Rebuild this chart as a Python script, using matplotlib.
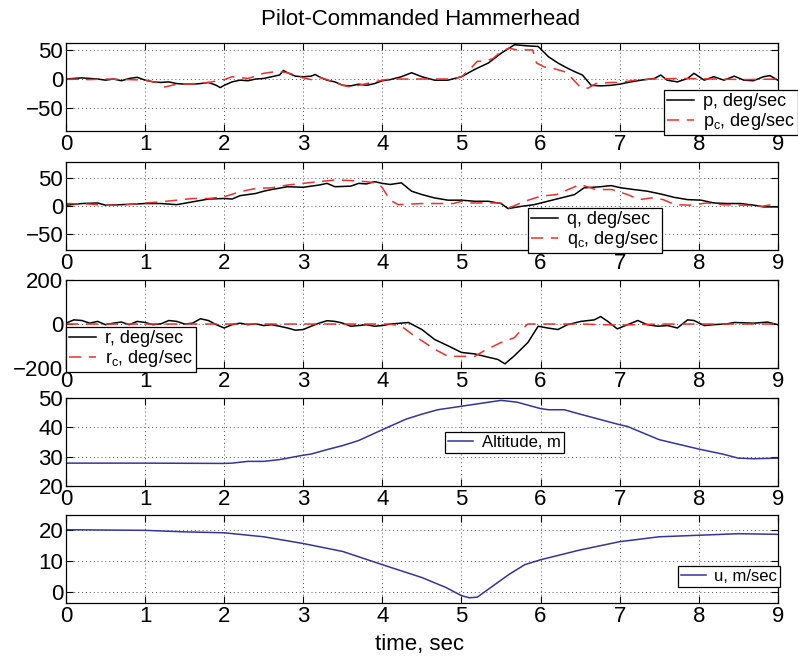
import matplotlib
matplotlib.use("Agg")
import matplotlib.pyplot as plt

plt.rcParams['font.family'] = ['Liberation Sans', 'DejaVu Sans']
plt.rcParams['axes.unicode_minus'] = True

# roll rate p and command p_c (deg/sec)
t_p = [0, 0.2, 0.4, 0.5, 0.6, 0.7, 0.8, 0.9, 1.0, 1.1, 1.2, 1.3, 1.4, 1.5, 1.6, 1.7, 1.8, 1.9, 1.95,
       2.0, 2.1, 2.2, 2.3, 2.4, 2.5, 2.6, 2.7, 2.75, 2.8, 2.9, 3.0, 3.1, 3.15, 3.2, 3.3, 3.4, 3.5, 3.6,
       3.7, 3.8, 3.9, 4.0, 4.1, 4.24, 4.37, 4.5, 4.66, 4.83, 5.0, 5.17, 5.34, 5.5, 5.67, 5.84, 5.97,
       6.1, 6.22, 6.34, 6.43, 6.53, 6.64, 6.76, 6.89, 7.0, 7.14, 7.27, 7.44, 7.52, 7.6, 7.73, 7.86,
       7.94, 8.07, 8.19, 8.32, 8.45, 8.57, 8.69, 8.82, 8.9, 9.0]
p = [0, 2, 0, -2, 0, -3, 1, 3, -2, -5, -6, -5, -8, -9, -9, -8, -6, -11, -15,
     -11, -5, -2, -3, 0, 1, 4, 7, 15, 11, 5, 4, 5, 8, 4, -2, -5, -11, -12,
     -9, -11, -8, -3, -1, 4, 11, 4, -2, -2, 4, 17, 28, 45, 60, 58, 57,
     39, 28, 19, 13, 7, -11, -12, -11, -9, -5, -2, 1, 7, -2, -5, 1,
     10, -2, 4, -2, 5, -2, -3, 4, 6, -2]
t_pc = [0, 0.3, 0.5, 0.8, 1.0, 1.15, 1.25, 1.4, 1.6, 1.8, 2.0, 2.1, 2.3, 2.4, 2.5, 2.6, 2.7, 2.8, 2.9,
        3.0, 3.1, 3.2, 3.3, 3.4, 3.5, 3.6, 3.7, 3.8, 3.9, 4.0, 4.1, 4.5, 4.9, 5.0, 5.1, 5.2, 5.3, 5.4,
        5.5, 5.6, 5.7, 5.8, 5.9, 5.95, 6.05, 6.15, 6.3, 6.4, 6.5, 6.6, 6.7, 6.9, 7.0, 7.2, 7.4, 7.8,
        8.2, 8.6, 9.0]
pc = [0, -1, 0, -1, -2, -6, -14, -9, -9, -6, -1, 4, 1, 5, 10, 12, 13, 11, 7,
      2, -1, 3, -1, -6, -11, -14, -11, -8, -5, -2, 0, 0, 0, 4, 16, 31, 31, 36,
      48, 54, 51, 51, 51, 28, 21, 19, 13, 1, -14, -16, -8, -6, -6, -2, 0, 1,
      0, -1, 0]

# pitch rate q and command q_c (deg/sec)
t_q = [0, 0.2, 0.4, 0.5, 0.7, 1.0, 1.2, 1.4, 1.6, 1.8, 2.0, 2.1, 2.2, 2.4, 2.5, 2.6, 2.8, 3.0, 3.1,
       3.2, 3.3, 3.4, 3.6, 3.7, 3.8, 3.9, 4.0, 4.1, 4.24, 4.37, 4.5, 4.66, 4.83, 5.0, 5.17, 5.34,
       5.5, 5.59, 5.76, 5.92, 6.09, 6.26, 6.43, 6.55, 6.76, 6.89, 7.02, 7.18, 7.35, 7.52, 7.69,
       7.86, 8.03, 8.19, 8.36, 8.53, 8.7, 8.82, 9.0]
q = [1, 4, 5, 1, 2, 4, 4, 2, 7, 12, 13, 12, 18, 22, 26, 29, 34, 33, 35,
     37, 40, 34, 35, 40, 39, 43, 40, 38, 41, 26, 20, 14, 10, 10, 8, 8,
     4, -5, -1, 2, 8, 14, 20, 32, 34, 36, 32, 29, 26, 21, 15,
     11, 10, 5, 4, 4, 1, -2, -2]
t_qc = [0, 0.3, 0.5, 0.7, 1.0, 1.2, 1.4, 1.6, 1.8, 2.0, 2.2, 2.4, 2.6, 2.8, 3.0, 3.2, 3.4, 3.6, 3.8,
        3.95, 4.0, 4.1, 4.2, 4.5, 4.9, 5.0, 5.1, 5.5, 5.6, 5.8, 6.0, 6.2, 6.4, 6.5, 6.7, 6.9, 7.1,
        7.25, 7.4, 7.55, 7.7, 7.9, 8.1, 8.3, 8.6, 8.8, 9.0]
qc = [4, 3, 1, 1, 5, 7, 10, 13, 13, 16, 25, 31, 32, 37, 40, 43, 46, 45, 43,
      40, 32, 10, 2, 4, 4, 8, 5, 5, -4, 8, 17, 20, 32, 38, 29, 29, 20,
      11, 14, 11, 2, 1, 5, 2, 1, -1, 4]

# yaw rate r and command r_c (deg/sec)
t_r = [0, 0.1, 0.2, 0.3, 0.4, 0.5, 0.6, 0.7, 0.8, 0.9, 1.0, 1.1, 1.2, 1.3, 1.4, 1.5, 1.6, 1.7, 1.8,
       1.9, 2.0, 2.1, 2.2, 2.3, 2.4, 2.5, 2.6, 2.7, 2.8, 2.9, 3.0, 3.1, 3.2, 3.3, 3.4, 3.5, 3.6, 3.7,
       3.8, 3.9, 4.0, 4.1, 4.24, 4.33, 4.5, 4.66, 4.83, 5.0, 5.17, 5.34, 5.46, 5.55, 5.67, 5.84,
       5.97, 6.09, 6.22, 6.34, 6.51, 6.68, 6.76, 6.85, 6.97, 7.1, 7.23, 7.35, 7.48, 7.61, 7.73,
       7.86, 7.94, 8.07, 8.19, 8.36, 8.45, 8.7, 8.87, 9.0]
r = [4, 19, 16, 4, 12, -3, 4, 9, -3, 12, 7, -3, 1, 16, 12, 0, 4, 24, 16,
     -3, -18, -3, 4, -3, 1, -7, -3, -10, -18, -28, -25, -10, 4, 15, 12, 4, -10, -7,
     -3, -10, -7, 0, 4, 7, -25, -70, -99, -129, -136, -151, -161, -181, -144, -84,
     -10, -18, -25, -3, 12, 19, 34, 12, -22, -3, 16, -3, -10, -7, -18,
     19, 16, -7, -3, 1, 7, 4, 9, -3]
t_rc = [0, 0.5, 1.0, 1.5, 2.0, 2.5, 3.0, 3.5, 4.0, 4.1, 4.24, 4.41, 4.66, 4.83, 5.17, 5.29, 5.5,
        5.67, 5.76, 5.84, 6.0, 6.5, 7.0, 7.5, 8.0, 8.5, 9.0]
rc = [0, 0, 0, 0, 0, 0, 0, 0, 0, 0, -10, -55, -114, -147, -147, -121, -84,
      -62, -25, 0, 0, 0, -5, 0, 0, 0, 0]

# altitude (m) and forward speed u (m/sec)
t_alt = [0, 1, 2, 2.1, 2.3, 2.5, 2.7, 3.0, 3.1, 3.3, 3.5, 3.7, 4.0, 4.3, 4.5, 4.7, 5.0, 5.2, 5.5,
         5.7, 6.0, 6.1, 6.3, 6.5, 7.0, 7.1, 7.5, 8.0, 8.3, 8.5, 8.7, 9.0]
alt = [27.8, 27.8, 27.7, 27.8, 28.4, 28.4, 29.0, 30.5, 30.9, 32.4, 33.8, 35.5, 39.2, 42.8, 44.5,
       46.0, 47.2, 48.0, 49.2, 48.6, 46.4, 46.0, 46.0, 44.5, 40.9, 40.3, 35.8, 32.6, 30.9, 29.5,
       29.3, 29.5]
t_u = [0, 1, 1.5, 2, 2.5, 3, 3.5, 4, 4.5, 4.8, 5.0, 5.1, 5.2, 5.4, 5.6, 5.8, 6.0, 6.5, 7.0, 7.5,
       8.0, 8.5, 9.0]
u = [20.2, 20.0, 19.5, 19.2, 17.9, 15.7, 13.1, 8.8, 4.6, 1.4, -1.3, -2.0, -1.8, 1.9, 5.6, 8.8,
     10.4, 13.6, 16.3, 17.9, 18.4, 18.9, 18.7]

x_ticks = list(range(10))

fig = plt.figure(figsize=(7.98, 6.58), dpi=100)
left, width, height = 0.0827, 0.892, 0.1337
bottoms = [0.8009, 0.6200, 0.4407, 0.2614, 0.0836]
axes = [fig.add_axes([left, b, width, height]) for b in bottoms]

black = dict(color='black', lw=1.1)
red = dict(color='#e8322f', lw=1.1, ls=(0, (8, 5)))
blue = dict(color='#34349c', lw=1.1)

# legend layout shared by every panel
leg_kw = dict(loc='upper left', borderaxespad=0, borderpad=0.18, labelspacing=0.05,
              handlelength=1.5, handletextpad=0.5, fancybox=False, framealpha=1,
              edgecolor='black')

ax = axes[0]
ax.plot(t_p, p, label='p, deg/sec', **black)
ax.plot(t_pc, pc, label=r'p$_\mathregular{c}$, deg/sec', **red)
ax.set_ylim(-91, 63)
ax.set_yticks([-50, 0, 50])
ax.legend(bbox_to_anchor=(0.84, 0.466), fontsize=13, **leg_kw)

ax = axes[1]
ax.plot(t_q, q, label='q, deg/sec', **black)
ax.plot(t_qc, qc, label=r'q$_\mathregular{c}$, deg/sec', **red)
ax.set_ylim(-79, 78)
ax.set_yticks([-50, 0, 50])
ax.legend(bbox_to_anchor=(0.649, 0.477), fontsize=13, **leg_kw)

ax = axes[2]
ax.plot(t_r, r, label='r, deg/sec', **black)
ax.plot(t_rc, rc, label=r'r$_\mathregular{c}$, deg/sec', **red)
ax.set_ylim(-200, 200)
ax.set_yticks([-200, 0, 200])
ax.legend(bbox_to_anchor=(0.0, 0.467), fontsize=13, **leg_kw)

ax = axes[3]
ax.plot(t_alt, alt, label='Altitude, m', **blue)
ax.set_ylim(20, 50)
ax.set_yticks([20, 30, 40, 50])
ax.legend(bbox_to_anchor=(0.533, 0.614), fontsize=12, **leg_kw)

ax = axes[4]
ax.plot(t_u, u, label='u, m/sec', **blue)
ax.set_ylim(-3.7, 25)
ax.set_yticks([0, 10, 20])
ax.legend(bbox_to_anchor=(0.86, 0.42), fontsize=12, **leg_kw)

for ax in axes:
    ax.set_xlim(0, 9)
    ax.set_xticks(x_ticks)
    ax.grid(True, ls=(0, (1, 3)), color='#555555', lw=0.7)
    ax.tick_params(direction='in', top=True, right=True, labelsize=16, length=5, pad=2, width=0.8)
    for s in ax.spines.values():
        s.set_linewidth(0.9)
    leg = ax.get_legend()
    leg.get_frame().set_linewidth(0.9)
    leg.set_zorder(5)

fig.text(421 / 798, 1 - 25 / 658, 'Pilot-Commanded Hammerhead', fontsize=16,
         ha='center', va='baseline')
fig.text(420 / 798, 1 - 650 / 658, 'time, sec', fontsize=16, ha='center', va='baseline')

fig.savefig('out.png', dpi=100)
